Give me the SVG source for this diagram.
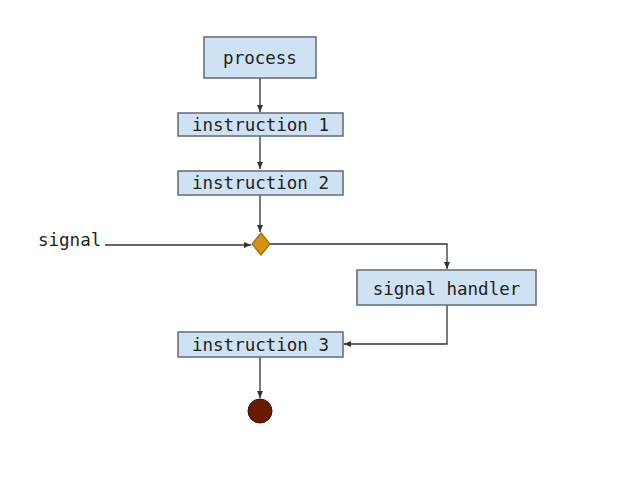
<svg xmlns="http://www.w3.org/2000/svg" width="626" height="495" viewBox="0 0 626 495">
<style>
.box{fill:#cfe2f3;stroke:#5f6b78;stroke-width:1.5}
.lbl{font-family:"DejaVu Sans Mono",monospace;font-size:17.5px;fill:#222;text-anchor:middle;dominant-baseline:central}
.edge{fill:none;stroke:#333;stroke-width:1.3}
</style>
<defs>
<marker id="ah" markerWidth="8" markerHeight="8" refX="7" refY="4" orient="auto" markerUnits="userSpaceOnUse">
<path d="M0,1 L7,4 L0,7 z" fill="#333"/>
</marker>
</defs>
<rect width="626" height="495" fill="#fff"/>
<g id="connectors">
<path class="edge" d="M260,78 V112" marker-end="url(#ah)"/>
<path class="edge" d="M260,136 V169" marker-end="url(#ah)"/>
<path class="edge" d="M260,195 V232" marker-end="url(#ah)"/>
<path class="edge" d="M105,245 H251" marker-end="url(#ah)"/>
<path class="edge" d="M270,244 H447 V269" marker-end="url(#ah)"/>
<path class="edge" d="M447,305 V344 H344" marker-end="url(#ah)"/>
<path class="edge" d="M260,357 V398" marker-end="url(#ah)"/>
</g>
<g id="process"><rect class="box" x="204" y="37" width="112" height="41"/><text class="lbl" x="260" y="58">process</text></g>
<g id="instruction1"><rect class="box" x="178" y="113" width="165" height="23"/><text class="lbl" x="260.5" y="124.5">instruction 1</text></g>
<g id="instruction2"><rect class="box" x="178" y="171" width="165" height="24"/><text class="lbl" x="260.5" y="183">instruction 2</text></g>
<g id="signal"><text x="38" y="240" font-family="DejaVu Sans Mono,monospace" font-size="17.5" fill="#222" dominant-baseline="central">signal</text></g>
<g id="decision"><path d="M261,233 L270,244 L261,255 L252,244 Z" fill="#d4940f" stroke="#9a6a08" stroke-width="1.2"/></g>
<g id="signal-handler"><rect class="box" x="357" y="270" width="179" height="35"/><text class="lbl" x="446.5" y="288.5">signal handler</text></g>
<g id="instruction3"><rect class="box" x="178" y="332" width="165" height="25"/><text class="lbl" x="260.5" y="344.5">instruction 3</text></g>
<g id="end"><circle cx="260" cy="411" r="12" fill="#6b1a02" stroke="#3d0e00" stroke-width="1"/></g>
</svg>
